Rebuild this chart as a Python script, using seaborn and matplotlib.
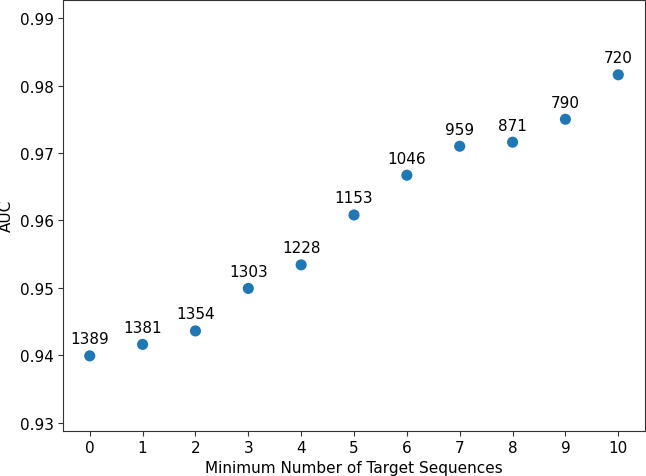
import matplotlib
matplotlib.use('Agg')
import matplotlib.pyplot as plt
import seaborn as sns
import pandas as pd

# Data
min_targets = [0, 1, 2, 3, 4, 5, 6, 7, 8, 9, 10]
auc = [0.9399, 0.9416, 0.9436, 0.9499, 0.9534, 0.9608, 0.9667, 0.9710, 0.9716, 0.9750, 0.9816]
counts = [1389, 1381, 1354, 1303, 1228, 1153, 1046, 959, 871, 790, 720]

df = pd.DataFrame({'min_targets': min_targets, 'auc': auc, 'count': counts})

sns.set_style('ticks')
plt.rcParams['font.family'] = ['DejaVu Sans']
plt.rcParams['text.color'] = 'black'
plt.rcParams['axes.labelcolor'] = 'black'
plt.rcParams['xtick.color'] = 'black'
plt.rcParams['ytick.color'] = 'black'

fig, ax = plt.subplots(figsize=(6.46, 4.77), dpi=100)
sns.scatterplot(data=df, x='min_targets', y='auc', s=64, color='#1f77b4',
                edgecolor='none', ax=ax)

for x, y, n in zip(df['min_targets'], df['auc'], df['count']):
    ax.annotate(str(n), (x, y), textcoords='offset points', xytext=(0, 9),
                ha='center', fontsize=11)

ax.set_xticks(min_targets)
ax.set_xlim(-0.5, 10.5)
ax.set_ylim(0.9288, 0.9927)
ax.set_yticks([0.93, 0.94, 0.95, 0.96, 0.97, 0.98, 0.99])
ax.set_xlabel('Minimum Number of Target Sequences', fontsize=11, labelpad=3)
ax.set_ylabel('AUC', fontsize=11)
ax.tick_params(labelsize=11, colors='black')
ax.tick_params(colors='#333333', which='both', labelcolor='black')
for sp in ax.spines.values():
    sp.set_color('#333333')

fig.subplots_adjust(left=0.098, right=0.998, top=0.998, bottom=0.095)
fig.savefig('out.png', dpi=100)
